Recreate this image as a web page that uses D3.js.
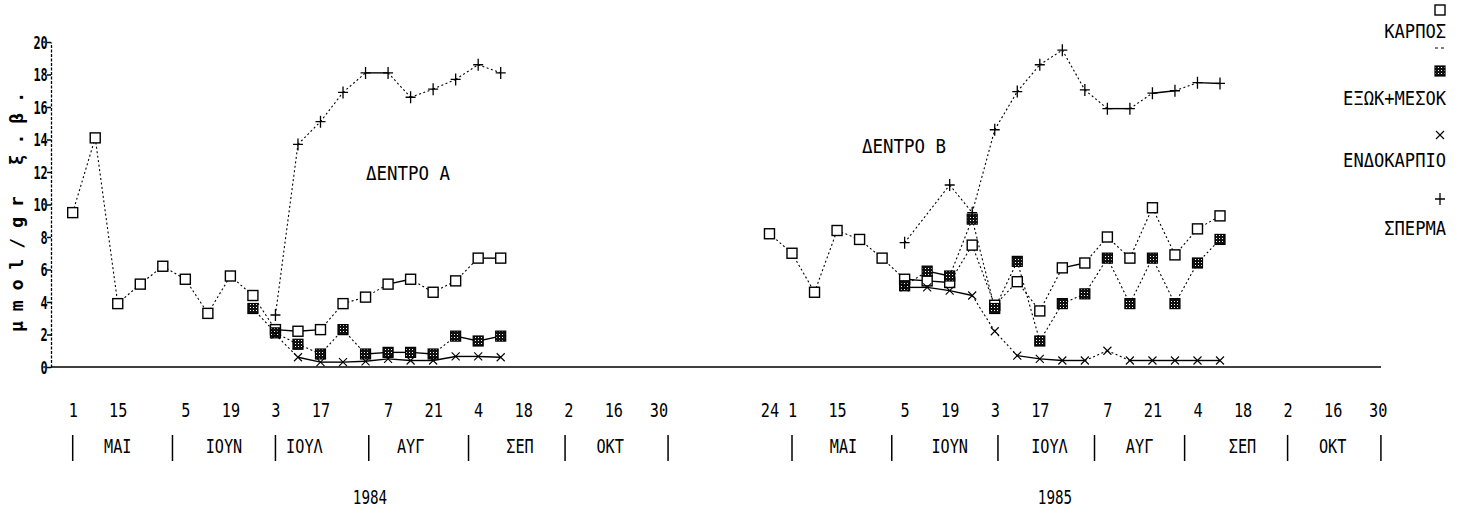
<!DOCTYPE html>
<html>
<head>
<meta charset="utf-8">
<script src="https://cdn.jsdelivr.net/npm/d3@7"></script>
<style>
  html, body { margin: 0; padding: 0; background: #fff; }
  svg { display: block; }
</style>
</head>
<body>
<svg id="chart" width="1461" height="513"></svg>
<script>
// ---- data -------------------------------------------------------------
const seriesNames = ["ΚΑΡΠΟΣ", "ΕΞΩΚ+ΜΕΣΟΚ", "ΕΝΔΟΚΑΡΠΙΟ", "ΣΠΕΡΜΑ"];
const monthNames = ["ΜΑΙ", "ΙΟΥΝ", "ΙΟΥΛ", "ΑΥΓ", "ΣΕΠ", "ΟΚΤ"];
const yTicks = [0, 2, 4, 6, 8, 10, 12, 14, 16, 18, 20];

// Tree A, 1984 – weekly sampling
const weeks1984 = ["1984-05-01","1984-05-08","1984-05-15","1984-05-22","1984-05-29",
  "1984-06-05","1984-06-12","1984-06-19","1984-06-26","1984-07-03","1984-07-10",
  "1984-07-17","1984-07-24","1984-07-31","1984-08-07","1984-08-14","1984-08-21",
  "1984-08-28","1984-09-04","1984-09-11"];
const karpos1984  = [9.5, 14.1, 3.9, 5.1, 6.2, 5.4, 3.3, 5.6, 4.4, 2.3, 2.2, 2.3, 3.9, 4.3, 5.1, 5.4, 4.6, 5.3, 6.7, 6.7];
const exomeso1984 = [null, null, null, null, null, null, null, null, 3.6, 2.1, 1.4, 0.8, 2.3, 0.8, 0.9, 0.9, 0.8, 1.9, 1.6, 1.9];
const endo1984    = [null, null, null, null, null, null, null, null, null, 2.0, 0.6, 0.3, 0.3, 0.35, 0.5, 0.4, 0.4, 0.65, 0.65, 0.6];
const sperma1984  = [null, null, null, null, null, null, null, null, null, 3.2, 13.7, 15.1, 16.9, 18.1, 18.1, 16.6, 17.1, 17.7, 18.6, 18.1];

// Tree B, 1985 – weekly sampling
const weeks1985 = ["1985-04-24","1985-05-01","1985-05-08","1985-05-15","1985-05-22",
  "1985-05-29","1985-06-05","1985-06-12","1985-06-19","1985-06-26","1985-07-03",
  "1985-07-10","1985-07-17","1985-07-24","1985-07-31","1985-08-07","1985-08-14",
  "1985-08-21","1985-08-28","1985-09-04","1985-09-11"];
const karpos1985  = [8.2, 7.0, 4.6, 8.4, 7.85, 6.7, 5.4, 5.3, 5.2, 7.5, 3.8, 5.25, 3.45, 6.1, 6.4, 8.0, 6.7, 9.8, 6.9, 8.5, 9.3];
const exomeso1985 = [null, null, null, null, null, null, 5.0, 5.9, 5.6, 9.1, 3.6, 6.5, 1.6, 3.9, 4.5, 6.7, 3.9, 6.7, 3.9, 6.4, 7.85];
const endo1985    = [null, null, null, null, null, null, 4.9, 4.9, 4.7, 4.4, 2.2, 0.7, 0.5, 0.4, 0.4, 1.0, 0.4, 0.4, 0.4, 0.4, 0.4];
const sperma1985  = [null, null, null, null, null, null, 7.65, null, 11.2, 9.5, 14.6, 16.95, 18.6, 19.5, 17.05, 15.9, 15.9, 16.85, 17.0, 17.5, 17.45];

// Axis tick dates, month breaks and month-name anchors
const ticks1984 = ["1984-05-01","1984-05-15","1984-06-05","1984-06-19","1984-07-03","1984-07-17",
  "1984-08-07","1984-08-21","1984-09-04","1984-09-18","1984-10-02","1984-10-16","1984-10-30"];
const ticks1985 = ["1985-04-24","1985-05-01","1985-05-15","1985-06-05","1985-06-19","1985-07-03","1985-07-17",
  "1985-08-07","1985-08-21","1985-09-04","1985-09-18","1985-10-02","1985-10-16","1985-10-30"];
const breaks1984 = ["1984-05-01","1984-06-01","1984-07-03","1984-08-01","1984-09-01","1984-10-01","1984-11-02"];
const breaks1985 = ["1985-05-01","1985-06-01","1985-07-04","1985-08-03","1985-08-31","1985-10-02","1985-10-31"];
const monthAt1984 = ["1984-05-15","1984-06-17","1984-07-12","1984-08-14","1984-09-17","1984-10-15"];
const monthAt1985 = ["1985-05-17","1985-06-19","1985-07-20","1985-08-17","1985-09-18","1985-10-16"];

// ---- setup ------------------------------------------------------------
const parse = d3.timeParse("%Y-%m-%d");
const FONT = "'DejaVu Sans Mono', 'Liberation Mono', monospace";
const svg = d3.select("#chart");

const defs = svg.append("defs");
const pat = defs.append("pattern").attr("id", "dither")
  .attr("width", 3).attr("height", 3).attr("patternUnits", "userSpaceOnUse");
pat.append("rect").attr("width", 3).attr("height", 3).attr("fill", "#111");
pat.append("rect").attr("x", 1).attr("y", 1).attr("width", 1).attr("height", 1).attr("fill", "#fff");

const y = d3.scaleLinear().domain([0, 20]).range([367, 42]);
const AXIS_X = 51;
const BASE_Y = y(0);

// narrow printer-style text
function label(g, s, x, yy, opt = {}) {
  return g.append("text")
    .attr("transform", `translate(${x},${yy}) scale(${opt.sx || 0.8},1)`)
    .attr("text-anchor", opt.anchor || "middle")
    .attr("dominant-baseline", "central")
    .attr("font-family", FONT)
    .attr("font-size", opt.size || 19)
    .attr("font-weight", opt.weight || "normal")
    .attr("fill", "#000")
    .text(s);
}

// marker shapes, one per series
function drawMarker(g, kind, cx, cy) {
  if (kind === 0) {
    g.append("rect").attr("x", cx - 5).attr("y", cy - 5).attr("width", 10).attr("height", 10)
      .attr("fill", "#fff").attr("stroke", "#000").attr("stroke-width", 1.4);
  } else if (kind === 1) {
    g.append("rect").attr("x", cx - 5).attr("y", cy - 5).attr("width", 10).attr("height", 10)
      .attr("fill", "url(#dither)").attr("stroke", "#000").attr("stroke-width", 1.2);
  } else if (kind === 2) {
    g.append("path").attr("d", `M${cx-4},${cy-4}L${cx+4},${cy+4}M${cx-4},${cy+4}L${cx+4},${cy-4}`)
      .attr("stroke", "#000").attr("stroke-width", 1.1).attr("fill", "none");
  } else {
    g.append("path").attr("d", `M${cx-5},${cy}L${cx+5},${cy}M${cx},${cy-6}L${cx},${cy+6}`)
      .attr("stroke", "#000").attr("stroke-width", 1.3).attr("fill", "none");
  }
}

// ---- y axis -----------------------------------------------------------
const yAxis = svg.append("g").attr("transform", `translate(${AXIS_X},0)`)
  .call(d3.axisLeft(y).tickValues(yTicks).tickSize(4).tickSizeOuter(0).tickPadding(1));
yAxis.select(".domain").attr("stroke", "#000").attr("stroke-width", 1.3).attr("stroke-dasharray", "3,1.5");
yAxis.selectAll(".tick line").attr("stroke", "#000").attr("stroke-width", 1.5);
yAxis.selectAll(".tick text")
  .attr("font-family", FONT).attr("font-size", 18).attr("font-weight", "bold")
  .attr("fill", "#000").attr("dy", "0.35em")
  .attr("transform", "scale(0.66,1)");

// y axis title (rotated)
svg.append("text")
  .attr("transform", `translate(23,212) rotate(-90)`)
  .attr("text-anchor", "middle")
  .attr("font-family", FONT).attr("font-size", 18).attr("font-weight", "bold")
  .attr("textLength", 240).attr("lengthAdjust", "spacing")
  .text("μmol/gr ξ.β.");

// baseline across both seasons
svg.append("line").attr("x1", AXIS_X).attr("x2", 1381).attr("y1", BASE_Y).attr("y2", BASE_Y)
  .attr("stroke", "#000").attr("stroke-width", 1.6);

// ---- panels -----------------------------------------------------------
const panels = [
  { year: "1984", title: "ΔΕΝΤΡΟ Α", weeks: weeks1984,
    values: [karpos1984, exomeso1984, endo1984, sperma1984],
    ticks: ticks1984, breaks: breaks1984, monthAt: monthAt1984,
    range: [72.7, 658.4], titlePos: [408, 173], yearX: 370 },
  { year: "1985", title: "ΔΕΝΤΡΟ Β", weeks: weeks1985,
    values: [karpos1985, exomeso1985, endo1985, sperma1985],
    ticks: ticks1985, breaks: breaks1985, monthAt: monthAt1985,
    range: [792, 1377.7], titlePos: [904, 146], yearX: 1055 }
];

panels.forEach(p => {
  const x = d3.scaleTime()
    .domain([parse(p.year + "-05-01"), parse(p.year + "-10-30")])
    .range(p.range);
  const g = svg.append("g");

  // date ticks
  const xa = g.append("g").attr("transform", "translate(0,404)")
    .call(d3.axisBottom(x).tickValues(p.ticks.map(parse))
      .tickFormat(d3.timeFormat("%-d")).tickSize(0).tickPadding(0));
  xa.select(".domain").remove();
  xa.selectAll(".tick text")
    .attr("font-family", FONT).attr("font-size", 19).attr("fill", "#000")
    .attr("transform", "scale(0.8,1)");

  // month separators and names
  g.selectAll("line.sep").data(p.breaks.map(parse)).join("line")
    .attr("class", "sep")
    .attr("x1", d => x(d)).attr("x2", d => x(d)).attr("y1", 435).attr("y2", 461)
    .attr("stroke", "#000").attr("stroke-width", 1.5);
  p.monthAt.forEach((d, i) => label(g, monthNames[i], x(parse(d)), 446));

  label(g, p.year, p.yearX, 497, { sx: 0.75 });
  label(g, p.title, p.titlePos[0], p.titlePos[1], { sx: 0.92 });

  // connecting lines: nearly-level segments print solid, the rest dotted
  p.values.forEach((vals, k) => {
    const pts = p.weeks.map((w, i) => [x(parse(w)), vals[i]])
      .filter(d => d[1] != null)
      .map(d => [d[0], y(d[1])]);
    const level = d => Math.abs(d[1][1] - d[0][1]) < 0.25 * Math.abs(d[1][0] - d[0][0]);
    g.selectAll(null).data(d3.pairs(pts)).join("line")
      .attr("x1", d => d[0][0]).attr("y1", d => d[0][1])
      .attr("x2", d => d[1][0]).attr("y2", d => d[1][1])
      .attr("stroke", "#000")
      .attr("stroke-width", d => level(d) ? 1.4 : 1.1)
      .attr("stroke-dasharray", d => level(d) ? null : "2,2.5");
  });

  // markers on top
  p.values.forEach((vals, k) => {
    p.weeks.forEach((w, i) => {
      if (vals[i] != null) drawMarker(g, k, x(parse(w)), y(vals[i]));
    });
  });
});

// ---- legend -----------------------------------------------------------
const lg = svg.append("g");
const LX = 1440, LT = 1446;
const legendMarkY = [10, 71, 135, 199];
const legendTextY = [31, 98, 160, 228];
seriesNames.forEach((name, k) => {
  drawMarker(lg, k, LX, legendMarkY[k]);
  label(lg, name, LT, legendTextY[k], { anchor: "end", sx: 0.9 });
});
lg.append("line").attr("x1", 1435).attr("x2", 1447).attr("y1", 48).attr("y2", 48)
  .attr("stroke", "#000").attr("stroke-width", 1).attr("stroke-dasharray", "3,3");
</script>
</body>
</html>
